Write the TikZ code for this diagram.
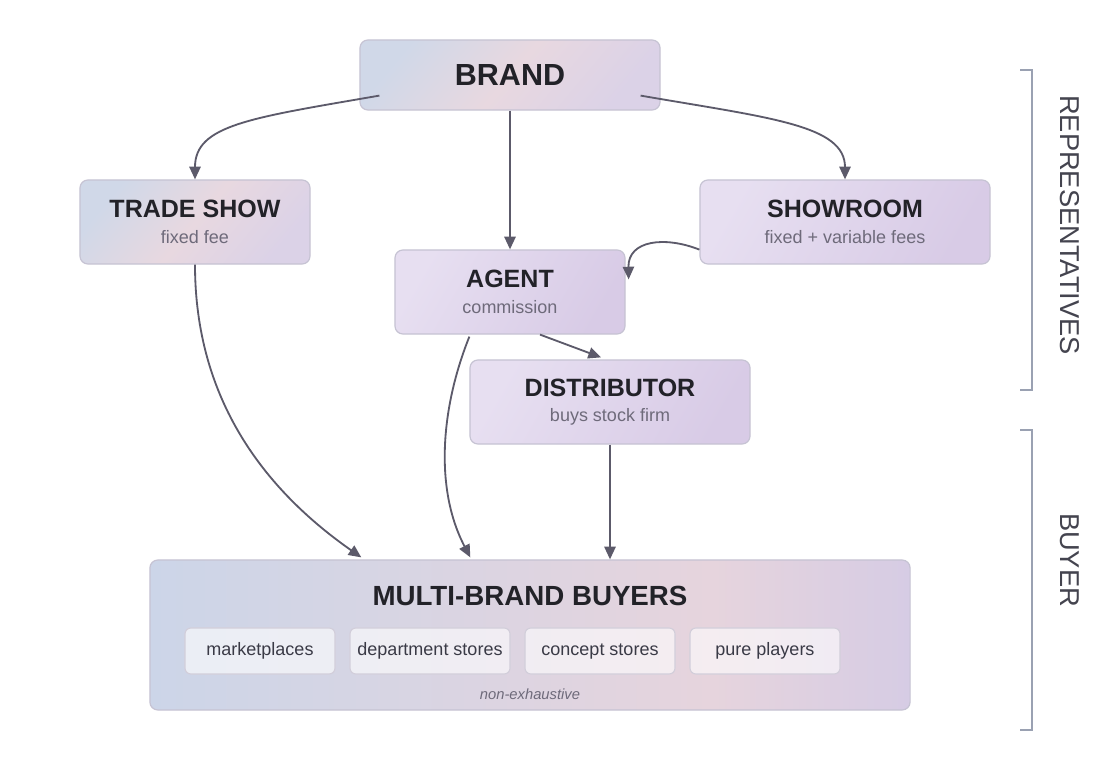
\documentclass[tikz,border=0pt]{standalone}
\usepackage{fontspec}
\setmainfont{Liberation Sans}
\usetikzlibrary{arrows.meta}
\usetikzlibrary{calc}

\definecolor{edge}{HTML}{5C5A6A}
\definecolor{frame}{HTML}{C6C3D3}
\definecolor{ink}{HTML}{222228}
\definecolor{note}{HTML}{6E6A7A}
\definecolor{chipink}{HTML}{3A3A46}
\definecolor{chipframe}{HTML}{D2CEDA}
\definecolor{bracket}{HTML}{9AA1B2}
\definecolor{side}{HTML}{44444F}
\definecolor{warmA}{HTML}{D0D8E8}
\definecolor{warmB}{HTML}{E8D8E0}
\definecolor{warmC}{HTML}{DBD2E7}
\definecolor{coolA}{HTML}{E7DFF1}
\definecolor{coolB}{HTML}{D8CBE6}
\definecolor{wideA}{HTML}{CCD5E8}
\definecolor{wideB}{HTML}{E6D4DD}
\definecolor{wideC}{HTML}{D6CCE4}

\pgfdeclarehorizontalshading{warm}{100bp}{color(0bp)=(warmA); color(25bp)=(warmA); color(50bp)=(warmB); color(75bp)=(warmC); color(100bp)=(warmC)}
\pgfdeclarehorizontalshading{cool}{100bp}{color(0bp)=(coolA); color(25bp)=(coolA); color(75bp)=(coolB); color(100bp)=(coolB)}
\pgfdeclarehorizontalshading{wide}{100bp}{color(0bp)=(wideA); color(25bp)=(wideA); color(62bp)=(wideB); color(75bp)=(wideC); color(100bp)=(wideC)}

\newcommand{\cardtitle}[1]{{\bfseries\fontsize{17.8}{18}\selectfont #1}}
\newcommand{\cardnote}[1]{{\color{note}#1}}

\tikzset{
  card/.style={draw=frame, line width=0.85pt, rounded corners=0.2cm, minimum height=2.1cm,
    align=center, text=ink, font=\fontsize{12.8}{18}\selectfont},
  warmcard/.style={card, shading=warm, shading angle=-40},
  coolcard/.style={card, shading=cool, shading angle=-30},
  chip/.style={draw=chipframe, line width=0.8pt, fill=white, fill opacity=0.6, text opacity=1,
    rounded corners=0.15cm, minimum width=3.75cm, minimum height=1.15cm, text=chipink,
    text height=1.6ex, text depth=0.3ex, font=\fontsize{12.8}{15}\selectfont},
  link/.style={draw=edge, line width=1.3pt, -{Triangle[length=9pt,width=8pt]}},
  bracketline/.style={draw=bracket, line width=1.4pt},
  sidelabel/.style={text=side, font=\fontsize{19.4}{20}\selectfont, rotate=-90}
}

\begin{document}
\begin{tikzpicture}[x=0.025cm, y=-0.025cm]
    \fill[white] (0,0) rectangle (1100,760);
    \useasboundingbox (0,0) rectangle (1100,760);

    % Brand and representatives
    \node[warmcard, minimum width=7.5cm, minimum height=1.75cm,
          font=\bfseries\fontsize{21.7}{22}\selectfont] (brand) at (510,75) {BRAND};
    \node[warmcard, minimum width=5.75cm] (trade) at (195,222)
        {\cardtitle{TRADE SHOW}\\\cardnote{fixed fee}};
    \node[coolcard, minimum width=7.25cm] (showroom) at (845,222)
        {\cardtitle{SHOWROOM}\\\cardnote{fixed + variable fees}};
    \node[coolcard, minimum width=5.75cm] (agent) at (510,292)
        {\cardtitle{AGENT}\\\cardnote{commission}};
    \node[coolcard, minimum width=7cm] (distributor) at (610,402)
        {\cardtitle{DISTRIBUTOR}\\\cardnote{buys stock firm}};

    % Buyers
    \node[card, shading=wide, minimum width=19cm, minimum height=3.75cm] (multi) at (530,635) {};
    \node[text=ink, font=\bfseries\fontsize{19.7}{20}\selectfont] (multiT) at (530,596) {MULTI-BRAND BUYERS};
    \node[chip] (market) at (260,651) {marketplaces};
    \node[chip, minimum width=4cm] (dept) at (430,651) {department stores};
    \node[chip] (concept) at (600,651) {concept stores};
    \node[chip] (pure) at (765,651) {pure players};
    \node[text=note, font=\itshape\fontsize{10.5}{12}\selectfont] (nonex) at (530,694) {non-exhaustive};

    % Flows
    \draw[link] ($(brand.south west)+(20,-15)$) .. controls (250,118) and (195,125) .. (trade.north);
    \draw[link] ($(brand.south east)+(-20,-15)$) .. controls (770,118) and (845,125) .. (showroom.north);
    \draw[link] (brand) -- (agent);
    \draw[link] ($(showroom.south west)+(0,-15)$) .. controls (665,236) and (628,240) .. ($(agent.north east)+(3,30)$);
    \draw[link] ($(agent.south)+(30,0)$) -- ($(distributor.north)+(-9,-2)$);
    \draw[link] (distributor.south) -- (distributor.south |- multi.north);
    \draw[link] (trade.south) .. controls (195,400) and (265,490) .. ($(multi.north west)+(212,-2)$);
    \draw[link] ($(agent.south west)+(75,2)$) .. controls (440,410) and (435,490) .. ($(multi.north west)+(321,-2)$);

    % Side brackets
    \draw[bracketline] (1020,70) -- (1032,70) -- (1032,390) -- (1020,390);
    \draw[bracketline] (1020,430) -- (1032,430) -- (1032,730) -- (1020,730);
    \node[sidelabel] (reps) at (1070,225) {REPRESENTATIVES};
    \node[sidelabel] (buyer) at (1070,560) {BUYER};
\end{tikzpicture}
\end{document}
